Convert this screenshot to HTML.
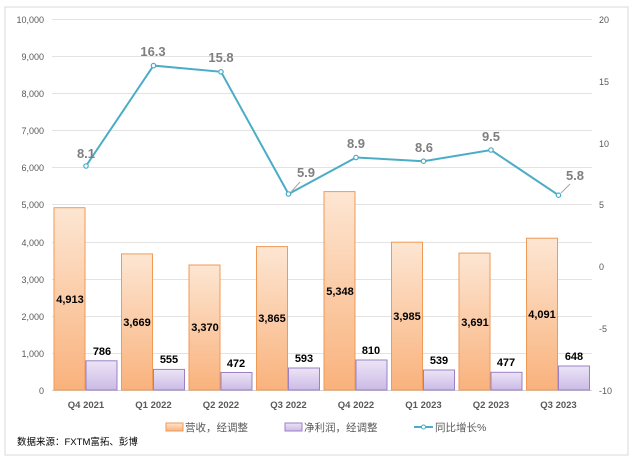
<!DOCTYPE html>
<html><head><meta charset="utf-8"><style>
body{margin:0;background:#fff;}
svg{display:block;font-family:"Liberation Sans","Noto Sans CJK SC",sans-serif;}
</style></head><body>
<svg width="635" height="469" viewBox="0 0 635 469" xmlns="http://www.w3.org/2000/svg">
<defs>
<linearGradient id="og" x1="0" y1="0" x2="0" y2="1"><stop offset="0" stop-color="#fde6d3"/><stop offset="1" stop-color="#f9b27c"/></linearGradient>
<linearGradient id="pg" x1="0" y1="0" x2="0" y2="1"><stop offset="0" stop-color="#ece4f6"/><stop offset="1" stop-color="#cbbbe6"/></linearGradient>
</defs>
<rect x="5" y="7" width="623" height="448" fill="#fff" stroke="#d9d9d9"/>
<g stroke="#e3e3e3" stroke-width="1">
<line x1="52" x2="592" y1="19.5" y2="19.5"/><line x1="52" x2="592" y1="56.5" y2="56.5"/><line x1="52" x2="592" y1="93.5" y2="93.5"/><line x1="52" x2="592" y1="130.5" y2="130.5"/><line x1="52" x2="592" y1="167.5" y2="167.5"/><line x1="52" x2="592" y1="204.5" y2="204.5"/><line x1="52" x2="592" y1="242.5" y2="242.5"/><line x1="52" x2="592" y1="279.5" y2="279.5"/><line x1="52" x2="592" y1="316.5" y2="316.5"/><line x1="52" x2="592" y1="353.5" y2="353.5"/>
</g>
<line x1="52" x2="592" y1="390.5" y2="390.5" stroke="#d0d0d0"/>
<g font-size="9" fill="#595959" text-anchor="end">
<text x="44" y="23">10,000</text><text x="44" y="60">9,000</text><text x="44" y="97">8,000</text><text x="44" y="134">7,000</text><text x="44" y="171">6,000</text><text x="44" y="208">5,000</text><text x="44" y="246">4,000</text><text x="44" y="283">3,000</text><text x="44" y="320">2,000</text><text x="44" y="357">1,000</text><text x="44" y="394">0</text>
</g>
<g font-size="9" fill="#595959" text-anchor="start">
<text x="599" y="23">20</text><text x="599" y="85">15</text><text x="599" y="147">10</text><text x="599" y="208">5</text><text x="599" y="270">0</text><text x="599" y="332">-5</text><text x="599" y="394">-10</text>
</g>
<g stroke="#f09a55" stroke-width="1" fill="url(#og)">
<rect x="54" y="207.7" width="31" height="182.3"/>
<rect x="121.5" y="253.9" width="31" height="136.1"/>
<rect x="189" y="265" width="31" height="125"/>
<rect x="256.5" y="246.6" width="31" height="143.4"/>
<rect x="324" y="191.6" width="31" height="198.4"/>
<rect x="391.5" y="242.2" width="31" height="147.8"/>
<rect x="459" y="253.1" width="31" height="136.9"/>
<rect x="526.5" y="238.2" width="31" height="151.8"/>
</g>
<g stroke="#9b80c6" stroke-width="1" fill="url(#pg)">
<rect x="86" y="360.8" width="31" height="29.2"/>
<rect x="153.5" y="369.4" width="31" height="20.6"/>
<rect x="221" y="372.5" width="31" height="17.5"/>
<rect x="288.5" y="368" width="31" height="22"/>
<rect x="356" y="360" width="31" height="30"/>
<rect x="423.5" y="370" width="31" height="20"/>
<rect x="491" y="372.3" width="31" height="17.7"/>
<rect x="558.5" y="366" width="31" height="24"/>
</g>
<g font-size="11" font-weight="bold" fill="#000" text-anchor="middle">
<text x="70" y="303">4,913</text><text x="137" y="326">3,669</text><text x="205" y="331">3,370</text><text x="272" y="322">3,865</text><text x="340" y="295">5,348</text><text x="407" y="320">3,985</text><text x="475" y="326">3,691</text><text x="542" y="318">4,091</text>
<text x="102" y="355">786</text><text x="169" y="363">555</text><text x="236" y="367">472</text><text x="304" y="362">593</text><text x="371" y="354">810</text><text x="439" y="364">539</text><text x="506" y="366">477</text><text x="574" y="360">648</text>
</g>
<polyline fill="none" stroke="#4bacc6" stroke-width="2" points="86,166 153.5,65.6 221,71.8 288.5,194 356,157.5 423.5,161.2 491,150 558.5,195.2"/>
<g fill="#fff" stroke="#4bacc6" stroke-width="1.2">
<circle cx="86" cy="166" r="2.2"/><circle cx="153.5" cy="65.6" r="2.2"/><circle cx="221" cy="71.8" r="2.2"/><circle cx="288.5" cy="194" r="2.2"/><circle cx="356" cy="157.5" r="2.2"/><circle cx="423.5" cy="161.2" r="2.2"/><circle cx="491" cy="150" r="2.2"/><circle cx="558.5" cy="195.2" r="2.2"/>
</g>
<line x1="291" y1="192" x2="300" y2="182" stroke="#a6a6a6"/>
<line x1="561" y1="193" x2="570" y2="184" stroke="#a6a6a6"/>
<g font-size="13" font-weight="bold" fill="#7f7f7f" text-anchor="middle">
<text x="86" y="158">8.1</text><text x="153" y="56">16.3</text><text x="221" y="62">15.8</text><text x="306" y="177">5.9</text><text x="356" y="148">8.9</text><text x="424" y="152">8.6</text><text x="491" y="141">9.5</text><text x="575" y="180">5.8</text>
</g>
<g font-size="9.5" font-weight="bold" fill="#595959" text-anchor="middle">
<text x="86" y="408">Q4 2021</text><text x="153.5" y="408">Q1 2022</text><text x="221" y="408">Q2 2022</text><text x="288.5" y="408">Q3 2022</text><text x="356" y="408">Q4 2022</text><text x="423.5" y="408">Q1 2023</text><text x="491" y="408">Q2 2023</text><text x="558.5" y="408">Q3 2023</text>
</g>
<rect x="166" y="423" width="17" height="8" fill="url(#og)" stroke="#f09a55"/>
<text x="185" y="431" font-size="10.5" fill="#595959">营收，经调整</text>
<rect x="285" y="423" width="17" height="8" fill="url(#pg)" stroke="#9b80c6"/>
<text x="304" y="431" font-size="10.5" fill="#595959">净利润，经调整</text>
<line x1="414" y1="427" x2="433" y2="427" stroke="#4bacc6" stroke-width="2"/>
<circle cx="423.5" cy="427" r="2" fill="#fff" stroke="#4bacc6"/>
<text x="435" y="431" font-size="10.5" fill="#595959">同比增长%</text>
<text x="17" y="445" font-size="9.5" fill="#000">数据来源：FXTM富拓、彭博</text>
</svg>
</body></html>
